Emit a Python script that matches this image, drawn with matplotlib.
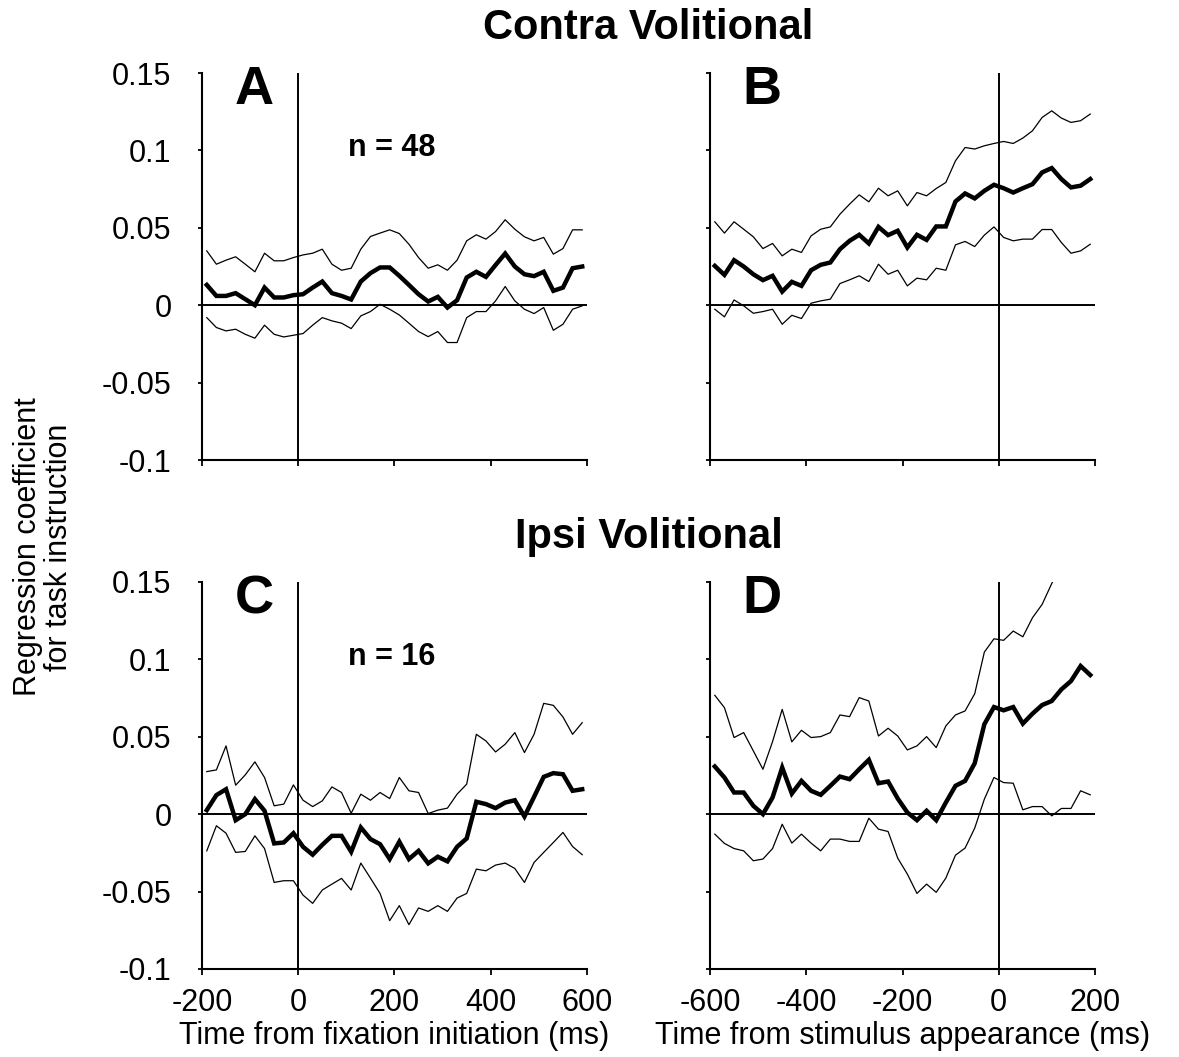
import numpy as np
import matplotlib
matplotlib.use("Agg")
import matplotlib.pyplot as plt

plt.rcParams['font.family'] = ['Liberation Sans', 'DejaVu Sans']
plt.rcParams['axes.unicode_minus'] = False

# time bins (ms), one point every 20 ms
t_fix = np.arange(-190, 600, 20)     # panels A, C
t_stim = np.arange(-590, 200, 20)    # panels B, D

# A: contra volitional, aligned on fixation
a_mean = [0.0131, 0.0060, 0.0060, 0.0078, 0.0039, 0.0000, 0.0114, 0.0050, 0.0050, 0.0065,
          0.0071, 0.0114, 0.0153, 0.0078, 0.0060, 0.0037, 0.0153, 0.0207, 0.0244, 0.0244,
          0.0190, 0.0131, 0.0071, 0.0024, 0.0054, -0.0015, 0.0032, 0.0179, 0.0216, 0.0183,
          0.0260, 0.0334, 0.0250, 0.0200, 0.0188, 0.0216, 0.0093, 0.0114, 0.0239, 0.0250]
a_upper = [0.0351, 0.0265, 0.0291, 0.0313, 0.0265, 0.0216, 0.0336, 0.0287, 0.0287, 0.0308,
           0.0325, 0.0336, 0.0362, 0.0265, 0.0226, 0.0239, 0.0362, 0.0444, 0.0466, 0.0487,
           0.0463, 0.0394, 0.0308, 0.0239, 0.0261, 0.0226, 0.0291, 0.0416, 0.0455, 0.0427,
           0.0476, 0.0552, 0.0491, 0.0442, 0.0416, 0.0438, 0.0330, 0.0366, 0.0487, 0.0487]
a_lower = [-0.0080, -0.0144, -0.0166, -0.0155, -0.0188, -0.0213, -0.0129, -0.0188, -0.0205, -0.0194,
           -0.0183, -0.0129, -0.0080, -0.0101, -0.0116, -0.0151, -0.0069, -0.0041, 0.0006, -0.0026,
           -0.0063, -0.0116, -0.0170, -0.0203, -0.0170, -0.0241, -0.0241, -0.0080, -0.0041, -0.0041,
           0.0028, 0.0121, 0.0028, -0.0026, -0.0054, -0.0015, -0.0162, -0.0123, -0.0026, -0.0004]

# B: contra volitional, aligned on stimulus
b_mean = [0.0254, 0.0196, 0.0291, 0.0250, 0.0200, 0.0162, 0.0190, 0.0088, 0.0151, 0.0125,
          0.0226, 0.0261, 0.0276, 0.0362, 0.0416, 0.0455, 0.0399, 0.0506, 0.0453, 0.0481,
          0.0373, 0.0455, 0.0422, 0.0509, 0.0509, 0.0670, 0.0722, 0.0690, 0.0739, 0.0778,
          0.0756, 0.0728, 0.0756, 0.0782, 0.0858, 0.0886, 0.0815, 0.0761, 0.0772, 0.0815]
b_upper = [0.0539, 0.0466, 0.0539, 0.0491, 0.0442, 0.0366, 0.0399, 0.0319, 0.0362, 0.0341,
           0.0448, 0.0491, 0.0506, 0.0588, 0.0653, 0.0713, 0.0668, 0.0756, 0.0707, 0.0739,
           0.0642, 0.0728, 0.0707, 0.0754, 0.0793, 0.0933, 0.1019, 0.1009, 0.1030, 0.1045,
           0.1058, 0.1045, 0.1080, 0.1127, 0.1213, 0.1256, 0.1209, 0.1181, 0.1192, 0.1235]
b_lower = [-0.0026, -0.0075, 0.0034, -0.0004, -0.0052, -0.0041, -0.0026, -0.0123, -0.0065, -0.0086,
           0.0013, 0.0028, 0.0039, 0.0140, 0.0164, 0.0190, 0.0153, 0.0265, 0.0200, 0.0226,
           0.0125, 0.0175, 0.0164, 0.0239, 0.0226, 0.0390, 0.0412, 0.0379, 0.0453, 0.0506,
           0.0438, 0.0416, 0.0427, 0.0427, 0.0489, 0.0489, 0.0405, 0.0336, 0.0351, 0.0394]

# C: ipsi volitional, aligned on fixation
c_mean = [0.0026, 0.0123, 0.0161, -0.0039, 0.0000, 0.0097, 0.0022, -0.0189, -0.0183, -0.0123,
          -0.0211, -0.0262, -0.0198, -0.0140, -0.0140, -0.0243, -0.0086, -0.0161, -0.0194, -0.0290,
          -0.0178, -0.0290, -0.0237, -0.0318, -0.0275, -0.0305, -0.0211, -0.0157, 0.0080, 0.0065,
          0.0039, 0.0075, 0.0090, -0.0015, 0.0112, 0.0241, 0.0265, 0.0258, 0.0151, 0.0161]
c_upper = [0.0275, 0.0286, 0.0441, 0.0187, 0.0254, 0.0338, 0.0237, 0.0054, 0.0065, 0.0189,
           0.0090, 0.0049, 0.0086, 0.0176, 0.0140, 0.0006, 0.0129, 0.0090, 0.0140, 0.0101,
           0.0237, 0.0151, 0.0140, 0.0004, 0.0026, 0.0039, 0.0129, 0.0194, 0.0516, 0.0473,
           0.0402, 0.0452, 0.0527, 0.0398, 0.0516, 0.0716, 0.0703, 0.0628, 0.0516, 0.0591]
c_lower = [-0.0237, -0.0075, -0.0123, -0.0247, -0.0241, -0.0140, -0.0222, -0.0441, -0.0430, -0.0430,
           -0.0523, -0.0576, -0.0490, -0.0452, -0.0415, -0.0490, -0.0316, -0.0413, -0.0512, -0.0688,
           -0.0591, -0.0714, -0.0606, -0.0628, -0.0591, -0.0628, -0.0542, -0.0512, -0.0355, -0.0366,
           -0.0329, -0.0316, -0.0351, -0.0441, -0.0312, -0.0247, -0.0183, -0.0118, -0.0209, -0.0262]

# D: ipsi volitional, aligned on stimulus (upper bound runs off the top)
d_mean = [0.0308, 0.0237, 0.0140, 0.0140, 0.0054, 0.0000, 0.0108, 0.0301, 0.0133, 0.0215,
          0.0151, 0.0125, 0.0183, 0.0243, 0.0226, 0.0290, 0.0351, 0.0200, 0.0211, 0.0101,
          0.0011, -0.0039, 0.0022, -0.0039, 0.0075, 0.0183, 0.0215, 0.0329, 0.0581, 0.0692,
          0.0671, 0.0692, 0.0585, 0.0649, 0.0705, 0.0731, 0.0806, 0.0860, 0.0957, 0.0899]
d_upper = [0.0768, 0.0688, 0.0495, 0.0527, 0.0409, 0.0290, 0.0469, 0.0677, 0.0467, 0.0542,
           0.0495, 0.0501, 0.0527, 0.0641, 0.0630, 0.0753, 0.0731, 0.0505, 0.0555, 0.0505,
           0.0415, 0.0441, 0.0501, 0.0430, 0.0570, 0.0641, 0.0667, 0.0778, 0.1047, 0.1133,
           0.1123, 0.1183, 0.1146, 0.1269, 0.1355, 0.1490, 0.1620, 0.1580, 0.1650, 0.1700]
d_lower = [-0.0129, -0.0189, -0.0222, -0.0237, -0.0301, -0.0290, -0.0222, -0.0065, -0.0187, -0.0129,
           -0.0187, -0.0237, -0.0161, -0.0161, -0.0176, -0.0176, -0.0026, -0.0097, -0.0112, -0.0284,
           -0.0387, -0.0512, -0.0452, -0.0505, -0.0413, -0.0265, -0.0219, -0.0090, 0.0097, 0.0237,
           0.0204, 0.0200, 0.0028, 0.0049, 0.0049, -0.0011, 0.0037, 0.0037, 0.0151, 0.0125]

yticks = [-0.1, -0.05, 0, 0.05, 0.1, 0.15]
ytick_labels = ['-0.1', '-0.05', '0', '0.05', '0.1', '0.15']

fig = plt.figure(figsize=(11.79, 10.57), dpi=100)

panels = [
    # letter, rect, t, mean, upper, lower, xlim, n text, xlabel
    ('A', [0.1713, 0.5648, 0.3266, 0.3661], t_fix, a_mean, a_upper, a_lower, (-200, 600), 'n = 48', None),
    ('B', [0.6022, 0.5648, 0.3266, 0.3661], t_stim, b_mean, b_upper, b_lower, (-600, 200), None, None),
    ('C', [0.1713, 0.0833, 0.3266, 0.3661], t_fix, c_mean, c_upper, c_lower, (-200, 600), 'n = 16',
     'Time from fixation initiation (ms)'),
    ('D', [0.6022, 0.0833, 0.3266, 0.3661], t_stim, d_mean, d_upper, d_lower, (-600, 200), None,
     'Time from stimulus appearance (ms)'),
]

for letter, rect, t, m, up, lo, xl, ntxt, xlab in panels:
    ax = fig.add_axes(rect)
    ax.plot(t, up, color='black', lw=0.9)
    ax.plot(t, lo, color='black', lw=0.9)
    ax.plot(t, m, color='black', lw=3.2, solid_joinstyle='miter')
    ax.axhline(0, color='black', lw=1.4)
    ax.axvline(0, color='black', lw=1.4)
    ax.set_xlim(*xl)
    ax.set_ylim(-0.1, 0.15)
    ax.set_xticks(np.arange(xl[0], xl[1] + 1, 200))
    ax.set_yticks(yticks)
    for s in ['top', 'right']:
        ax.spines[s].set_visible(False)
    for s in ['left', 'bottom']:
        ax.spines[s].set_linewidth(1.5)
    ax.tick_params(axis='y', direction='out', length=3, width=1.3, pad=19, labelsize=22)
    ax.tick_params(axis='x', direction='out', length=4, width=1.3, pad=10, labelsize=22)
    if letter in ('A', 'C'):
        ax.set_yticklabels(ytick_labels)
    else:
        ax.set_yticklabels([])
    if xlab is None:
        ax.set_xticklabels([])
    else:
        ax.set_xticklabels([str(v) for v in np.arange(xl[0], xl[1] + 1, 200)])
        ax.set_xlabel(xlab, fontsize=22, labelpad=2)
    ax.text(0.135, 0.955, letter, transform=ax.transAxes, fontsize=39, fontweight='bold',
            ha='center', va='center')
    if ntxt:
        ax.text(0.494, 0.806, ntxt, transform=ax.transAxes, fontsize=22, fontweight='bold',
                ha='center', va='center')

fig.text(0.55, 0.9735, 'Contra Volitional', fontsize=30, fontweight='bold', ha='center', va='center')
fig.text(0.55, 0.492, 'Ipsi Volitional', fontsize=30, fontweight='bold', ha='center', va='center')
fig.text(0.037, 0.4825, 'Regression coefficient\nfor task instruction', rotation=90,
         fontsize=22, ha='center', va='center', linespacing=1.05)

fig.savefig('out.png', dpi=100)
